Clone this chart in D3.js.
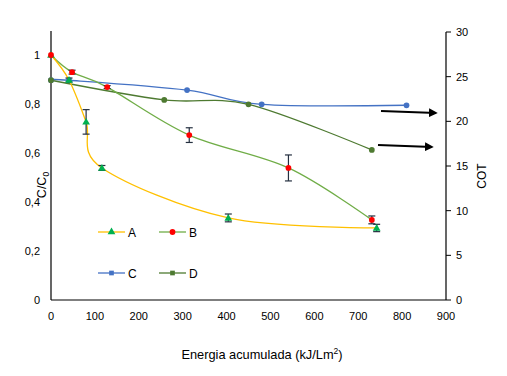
<!DOCTYPE html>
<html lang="es">
<head>
<meta charset="UTF-8">
<title>Chart</title>
<style>
  body { margin: 0; background: #fff; font-family: "Liberation Sans", Arial, sans-serif; }
  svg text { fill: #000; }
</style>
</head>
<body>
<div id="chart"></div>
<script src="https://d3js.org/d3.v7.min.js"></script>
<script>
// C/C0 series (left axis)
const xA = [0, 41, 80, 116, 404, 742];
const yA = [1.0, 0.898, 0.727, 0.539, 0.335, 0.294];
const errA = [0, 0.008, 0.05, 0.01, 0.016, 0.015];

const xB = [0, 48, 128, 315, 541, 731];
const yB = [1.0, 0.93, 0.869, 0.673, 0.539, 0.327];
const errB = [0, 0.008, 0.006, 0.03, 0.053, 0.016];

// COT series (right axis)
const xC = [0, 41, 310, 480, 810];
const yC = [24.6, 24.6, 23.5, 21.9, 21.8];

const xD = [0, 258, 450, 731];
const yD = [24.6, 22.4, 21.9, 16.8];

const xTicks = [0, 100, 200, 300, 400, 500, 600, 700, 800, 900];
const leftTicks = [0, 0.2, 0.4, 0.6, 0.8, 1];
const rightTicks = [0, 5, 10, 15, 20, 25, 30];

const W = 507, H = 376;
const svg = d3.select("#chart").append("svg").attr("width", W).attr("height", H);

const x = d3.scaleLinear().domain([0, 900]).range([51, 446]);
const yL = d3.scaleLinear().domain([0, 1.1]).range([300, 30.5]);
const yR = d3.scaleLinear().domain([0, 30]).range([300, 32]);

const fmt = d => d === 0 ? "0" : d === 1 ? "1" : String(d).replace(".", ",");

// axes
svg.append("line").attr("x1", 51).attr("x2", 446).attr("y1", 300).attr("y2", 300)
  .attr("stroke", "#000").attr("stroke-width", 1.2);
svg.append("line").attr("x1", 51).attr("x2", 51).attr("y1", 31).attr("y2", 300)
  .attr("stroke", "#000").attr("stroke-width", 1.2);
svg.append("line").attr("x1", 446).attr("x2", 446).attr("y1", 32).attr("y2", 300)
  .attr("stroke", "#000").attr("stroke-width", 1.2);

svg.selectAll(".xt").data(xTicks).join("text")
  .attr("x", d => x(d)).attr("y", 320).attr("text-anchor", "middle")
  .attr("font-size", 11).text(d => d);

svg.selectAll(".ylt").data(leftTicks).join("text")
  .attr("x", 40).attr("y", d => yL(d) + 4).attr("text-anchor", "end")
  .attr("font-size", 11).text(fmt);

svg.selectAll(".yrtick").data(rightTicks).join("line")
  .attr("x1", 446).attr("x2", 451).attr("y1", d => yR(d)).attr("y2", d => yR(d))
  .attr("stroke", "#000");
svg.selectAll(".yrt").data(rightTicks).join("text")
  .attr("x", 456).attr("y", d => yR(d) + 4).attr("text-anchor", "start")
  .attr("font-size", 11).text(d => d);

// titles
const xt = svg.append("text").attr("x", 262).attr("y", 359).attr("text-anchor", "middle")
  .attr("font-size", 12.8);
xt.append("tspan").text("Energia acumulada (kJ/Lm");
xt.append("tspan").attr("font-size", 8.5).attr("dy", -5).text("2");
xt.append("tspan").attr("dy", 5).text(")");

const yt = svg.append("text").attr("transform", "translate(46,185) rotate(-90)")
  .attr("text-anchor", "middle").attr("font-size", 12.5);
yt.append("tspan").text("C/C");
yt.append("tspan").attr("font-size", 8.5).attr("dy", 3).text("0");

svg.append("text").attr("transform", "translate(486,176) rotate(-90)")
  .attr("text-anchor", "middle").attr("font-size", 12).text("COT");

const curve = d3.curveCardinal.tension(0);

function series(xs, ys, yScale, lineColor) {
  const pts = xs.map((v, i) => [x(v), yScale(ys[i])]);
  svg.append("path").attr("d", d3.line().curve(curve)(pts))
    .attr("fill", "none").attr("stroke", lineColor).attr("stroke-width", 1.3);
  return pts;
}

function errBars(xs, ys, es) {
  xs.forEach((v, i) => {
    if (!es[i]) return;
    const cx = x(v), y1 = yL(ys[i] - es[i]), y2 = yL(ys[i] + es[i]);
    const g = svg.append("g").attr("stroke", "#253040").attr("stroke-width", 1.2);
    g.append("line").attr("x1", cx).attr("x2", cx).attr("y1", y1).attr("y2", y2);
    g.append("line").attr("x1", cx - 3.5).attr("x2", cx + 3.5).attr("y1", y1).attr("y2", y1);
    g.append("line").attr("x1", cx - 3.5).attr("x2", cx + 3.5).attr("y1", y2).attr("y2", y2);
  });
}

const tri = d3.symbol().type(d3.symbolTriangle).size(26);
const dot = d3.symbol().type(d3.symbolCircle).size(26);

// C and D (right axis)
const pC = series(xC, yC, yR, "#4472C4");
const pD = series(xD, yD, yR, "#4E7A31");
svg.selectAll(".mc").data(pC).join("path").attr("d", dot)
  .attr("transform", d => `translate(${d[0]},${d[1]})`).attr("fill", "#4472C4");
svg.selectAll(".md").data(pD).join("path").attr("d", dot)
  .attr("transform", d => `translate(${d[0]},${d[1]})`).attr("fill", "#4E7A31");

// A and B (left axis)
const pB = series(xB, yB, yL, "#70AD47");
const pA = series(xA, yA, yL, "#FFC000");
errBars(xB, yB, errB);
errBars(xA, yA, errA);
svg.selectAll(".ma").data(pA).join("path").attr("d", tri)
  .attr("transform", d => `translate(${d[0]},${d[1] + 0.5})`).attr("fill", "#00B050");
svg.selectAll(".mb").data(pB).join("path").attr("d", dot)
  .attr("transform", d => `translate(${d[0]},${d[1]})`).attr("fill", "#FF0000");

// arrows
const defs = svg.append("defs");
defs.append("marker").attr("id", "arr").attr("viewBox", "0 0 10 10")
  .attr("refX", 8).attr("refY", 5).attr("markerWidth", 4).attr("markerHeight", 4)
  .attr("orient", "auto").append("path").attr("d", "M0,0 L10,5 L0,10 z").attr("fill", "#000");
const arrows = [[381, 111, 436, 113], [378, 145, 432, 147]];
svg.selectAll(".arrow").data(arrows).join("line")
  .attr("x1", d => d[0]).attr("y1", d => d[1]).attr("x2", d => d[2]).attr("y2", d => d[3])
  .attr("stroke", "#000").attr("stroke-width", 2.2).attr("marker-end", "url(#arr)");

// legend
const legend = [
  { name: "A", line: "#FFC000", fill: "#00B050", sym: tri, x: 98, y: 232 },
  { name: "B", line: "#70AD47", fill: "#FF0000", sym: dot, x: 159, y: 232 },
  { name: "C", line: "#4472C4", fill: "#4472C4", sym: d3.symbol().type(d3.symbolSquare).size(22), x: 98, y: 273 },
  { name: "D", line: "#4E7A31", fill: "#4E7A31", sym: d3.symbol().type(d3.symbolSquare).size(22), x: 159, y: 273 }
];
const lg = svg.selectAll(".lg").data(legend).join("g");
lg.append("line").attr("x1", d => d.x).attr("x2", d => d.x + 27)
  .attr("y1", d => d.y).attr("y2", d => d.y).attr("stroke", d => d.line).attr("stroke-width", 1.3);
lg.append("path").attr("d", d => d.sym()).attr("fill", d => d.fill)
  .attr("transform", d => `translate(${d.x + 13.5},${d.y})`);
lg.append("text").attr("x", d => d.x + 30).attr("y", d => d.y + 5)
  .attr("font-size", 12).text(d => d.name);
</script>
</body>
</html>
